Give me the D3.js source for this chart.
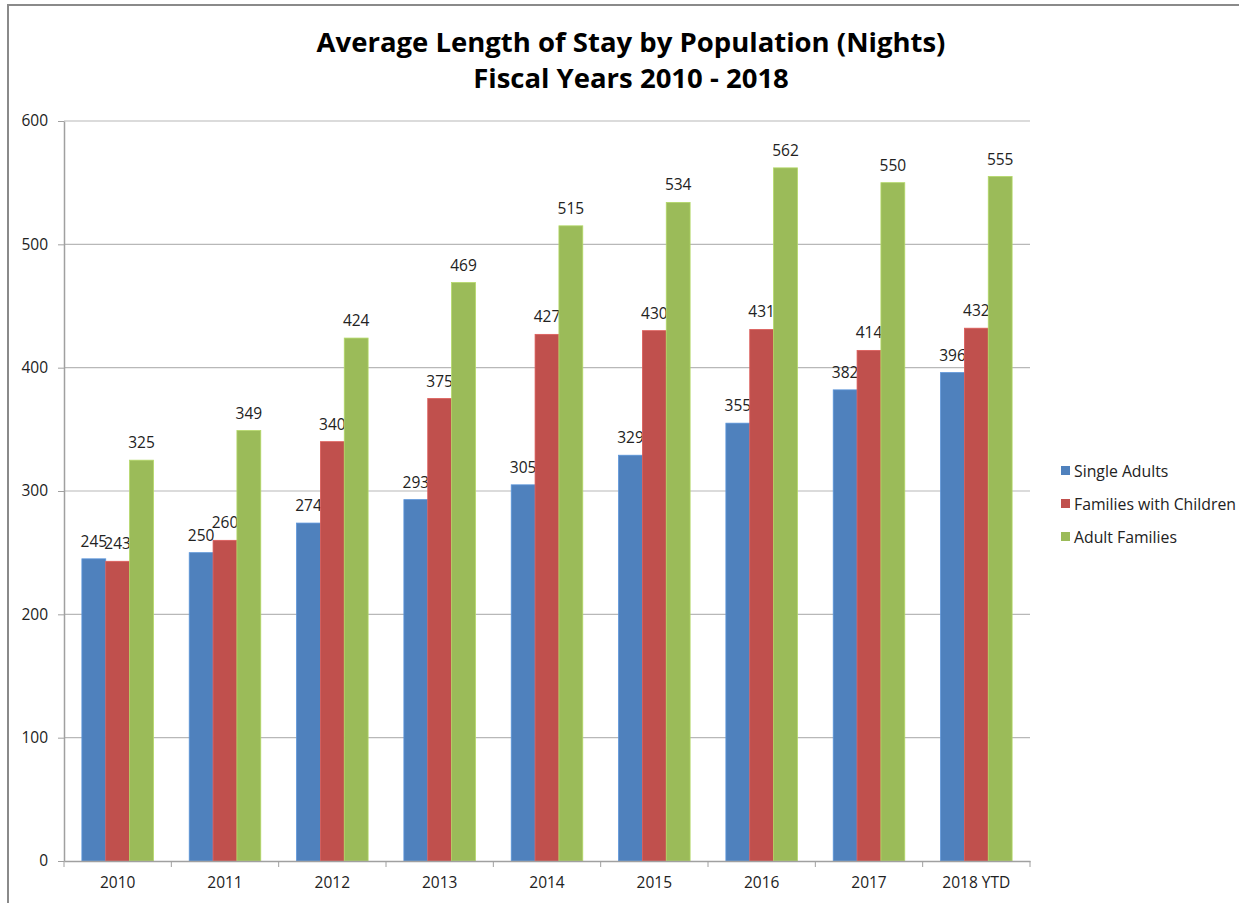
<!DOCTYPE html>
<html>
<head>
<meta charset="utf-8" />
<title>Average Length of Stay by Population</title>
<script src="https://d3js.org/d3.v7.min.js"></script>
<style>
    body { margin: 0px; background: #fff; }
    text { font-family: "Open Sans", Lato, sans-serif; fill: #222; }
    .tick text { font-size: 15.5px; }
</style>
</head>
<body>
<script>
// chart data
var years = ["2010", "2011", "2012", "2013", "2014", "2015", "2016", "2017", "2018 YTD"];
var seriesNames = ["Single Adults", "Families with Children", "Adult Families"];
var singleAdults = [245, 250, 274, 293, 305, 329, 355, 382, 396];
var familiesWithChildren = [243, 260, 340, 375, 427, 430, 431, 414, 432];
var adultFamilies = [325, 349, 424, 469, 515, 534, 562, 550, 555];
var yTicks = [0, 100, 200, 300, 400, 500, 600];
var colors = ["#4F81BD", "#C0504D", "#9BBB59"];
var titleLines = ["Average Length of Stay by Population (Nights)", "Fiscal Years 2010 - 2018"];

var allValues = [singleAdults, familiesWithChildren, adultFamilies];

var width = 1239, height = 903;
var plot = {left: 64, right: 1030, top: 121, bottom: 861};

var svg = d3.select("body").append("svg")
    .attr("width", width)
    .attr("height", height);

// outer frame (only top/left edges show)
svg.append("rect")
    .attr("x", 8).attr("y", 5)
    .attr("width", width + 20).attr("height", height + 20)
    .attr("fill", "none")
    .attr("stroke", "#8a8a8a")
    .attr("stroke-width", 2);

var x0 = d3.scaleBand()
    .domain(years)
    .range([plot.left, plot.right])
    .padding(0);

var x1 = d3.scaleBand()
    .domain(seriesNames)
    .range([0, x0.bandwidth()])
    .paddingInner(0)
    .paddingOuter(0.75);

var y = d3.scaleLinear()
    .domain([0, 600])
    .range([plot.bottom, plot.top]);

// gridlines
svg.append("g")
    .selectAll("line")
    .data(yTicks.slice(1))
    .enter()
    .append("line")
        .attr("x1", plot.left).attr("x2", plot.right)
        .attr("y1", d => y(d)).attr("y2", d => y(d))
        .attr("stroke", "#b8b8b8")
        .attr("stroke-width", 1.2);

// y axis
var yAxis = svg.append("g")
    .attr("transform", "translate(" + plot.left + ",0)")
    .call(d3.axisLeft(y).tickValues(yTicks).tickSize(6).tickPadding(10).tickSizeOuter(0));
yAxis.select(".domain").attr("stroke", "#a0a0a0").attr("stroke-width", 1.5);
yAxis.selectAll(".tick line").attr("stroke", "#a0a0a0");

// bars
seriesNames.forEach(function(name, si) {
    var vals = allValues[si];
    var g = svg.append("g");
    g.selectAll("rect")
        .data(years)
        .enter()
        .append("rect")
            .attr("x", (d) => x0(d) + x1(name))
            .attr("y", (d, i) => y(vals[i]))
            .attr("width", x1.bandwidth())
            .attr("height", (d, i) => y(0) - y(vals[i]))
            .attr("fill", colors[si])
            .attr("stroke", d3.color(colors[si]).brighter(0.4))
            .attr("stroke-width", 0.8);
    g.selectAll("text")
        .data(years)
        .enter()
        .append("text")
            .attr("x", (d) => x0(d) + x1(name) + x1.bandwidth() / 2)
            .attr("y", (d, i) => y(vals[i]) - 12)
            .attr("text-anchor", "middle")
            .style("font-size", "15.5px")
            .text((d, i) => vals[i]);
});

// x axis
var xAxis = svg.append("g")
    .attr("transform", "translate(0," + plot.bottom + ")")
    .call(d3.axisBottom(x0).tickSize(0).tickPadding(16));
xAxis.select(".domain").attr("stroke", "#a0a0a0").attr("stroke-width", 1.5);
// category boundary ticks
xAxis.selectAll(".sep")
    .data(years.concat(["end"]))
    .enter()
    .append("line")
        .attr("class", "sep")
        .attr("x1", (d, i) => plot.left + i * x0.step())
        .attr("x2", (d, i) => plot.left + i * x0.step())
        .attr("y1", 0).attr("y2", 6)
        .attr("stroke", "#a0a0a0");

// title
svg.append("g")
    .selectAll("text")
    .data(titleLines)
    .enter()
    .append("text")
        .attr("x", 631)
        .attr("y", (d, i) => 52 + i * 36)
        .attr("text-anchor", "middle")
        .style("font-size", "27.5px")
        .style("font-weight", "bold")
        .style("fill", "#000")
        .text(d => d);

// legend
var legend = svg.append("g")
    .selectAll("g")
    .data(seriesNames)
    .enter()
    .append("g")
        .attr("transform", (d, i) => "translate(1061," + (471 + i * 33) + ")");
legend.append("rect")
    .attr("x", 0).attr("y", -5)
    .attr("width", 9).attr("height", 9)
    .attr("fill", (d, i) => colors[i]);
legend.append("text")
    .attr("x", 13).attr("y", 5.5)
    .style("font-size", "15.8px")
    .text(d => d);
</script>
</body>
</html>
